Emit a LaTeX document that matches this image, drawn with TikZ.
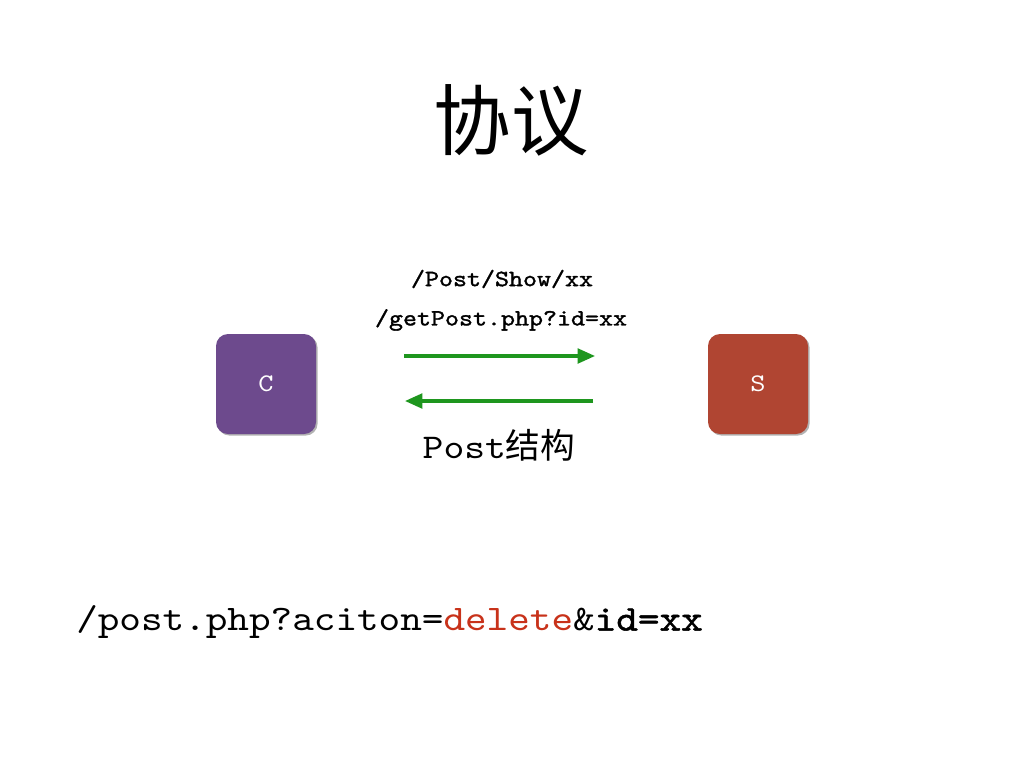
\documentclass[tikz,border=0pt]{standalone}
\usepackage{fontspec}
\setmonofont{lmmono10-regular}[Extension=.otf,FakeStretch=1.143,BoldFont=lmmono10-regular,BoldFeatures={FakeBold=1.4}]
\newfontfamily\cjk{Noto Sans CJK SC}
\usetikzlibrary{arrows.meta,shadows}
\definecolor{cpurple}{HTML}{6D4A8D}
\definecolor{sred}{HTML}{B04532}
\definecolor{agreen}{HTML}{1E961E}
\definecolor{delred}{HTML}{C8321A}
\tikzset{
  box/.style={minimum width=75pt,minimum height=75pt,rounded corners=9pt,text=white,
    font=\ttfamily\fontsize{19}{19}\selectfont,
    drop shadow={shadow xshift=1.2pt,shadow yshift=-1.2pt,opacity=0.3,fill=black}},
  lbl/.style={font=\ttfamily\bfseries\fontsize{17.5}{17.5}\selectfont},
  garrow/.style={draw=agreen,line width=2.3pt,-{Triangle[length=13pt,width=11pt]}},
}
\begin{document}
\begin{tikzpicture}[x=0.75pt,y=-0.75pt]
\useasboundingbox[fill=white] (0,0) rectangle (1024,768);
\node[font=\cjk\fontsize{58}{58}\selectfont] (title) at (511,120) {协议};
\node[box,fill=cpurple] (c) at (266,384) {C};
\node[box,fill=sred] (s) at (758,384) {S};
\node[lbl] (l1) at (502,279) {/Post/Show/xx};
\node[lbl] (l2) at (501,320) {/getPost.php?id=xx};
\coordinate (a1s) at (404,356);
\coordinate (a1e) at (595,356);
\coordinate (a2s) at (593,401);
\coordinate (a2e) at (405,401);
\draw[garrow] (a1s) -- (a1e);
\draw[garrow] (a2s) -- (a2e);
\node[font=\fontsize{26}{26}\selectfont] (ps) at (499,445) {\ttfamily Post\cjk 结构};
\node[font=\ttfamily\fontsize{27}{27}\selectfont,anchor=west,inner sep=0pt] (url) at (76,622) {/post.php?aciton=\textcolor{delred}{delete}\&\textbf{id=xx}};
\end{tikzpicture}
\end{document}
